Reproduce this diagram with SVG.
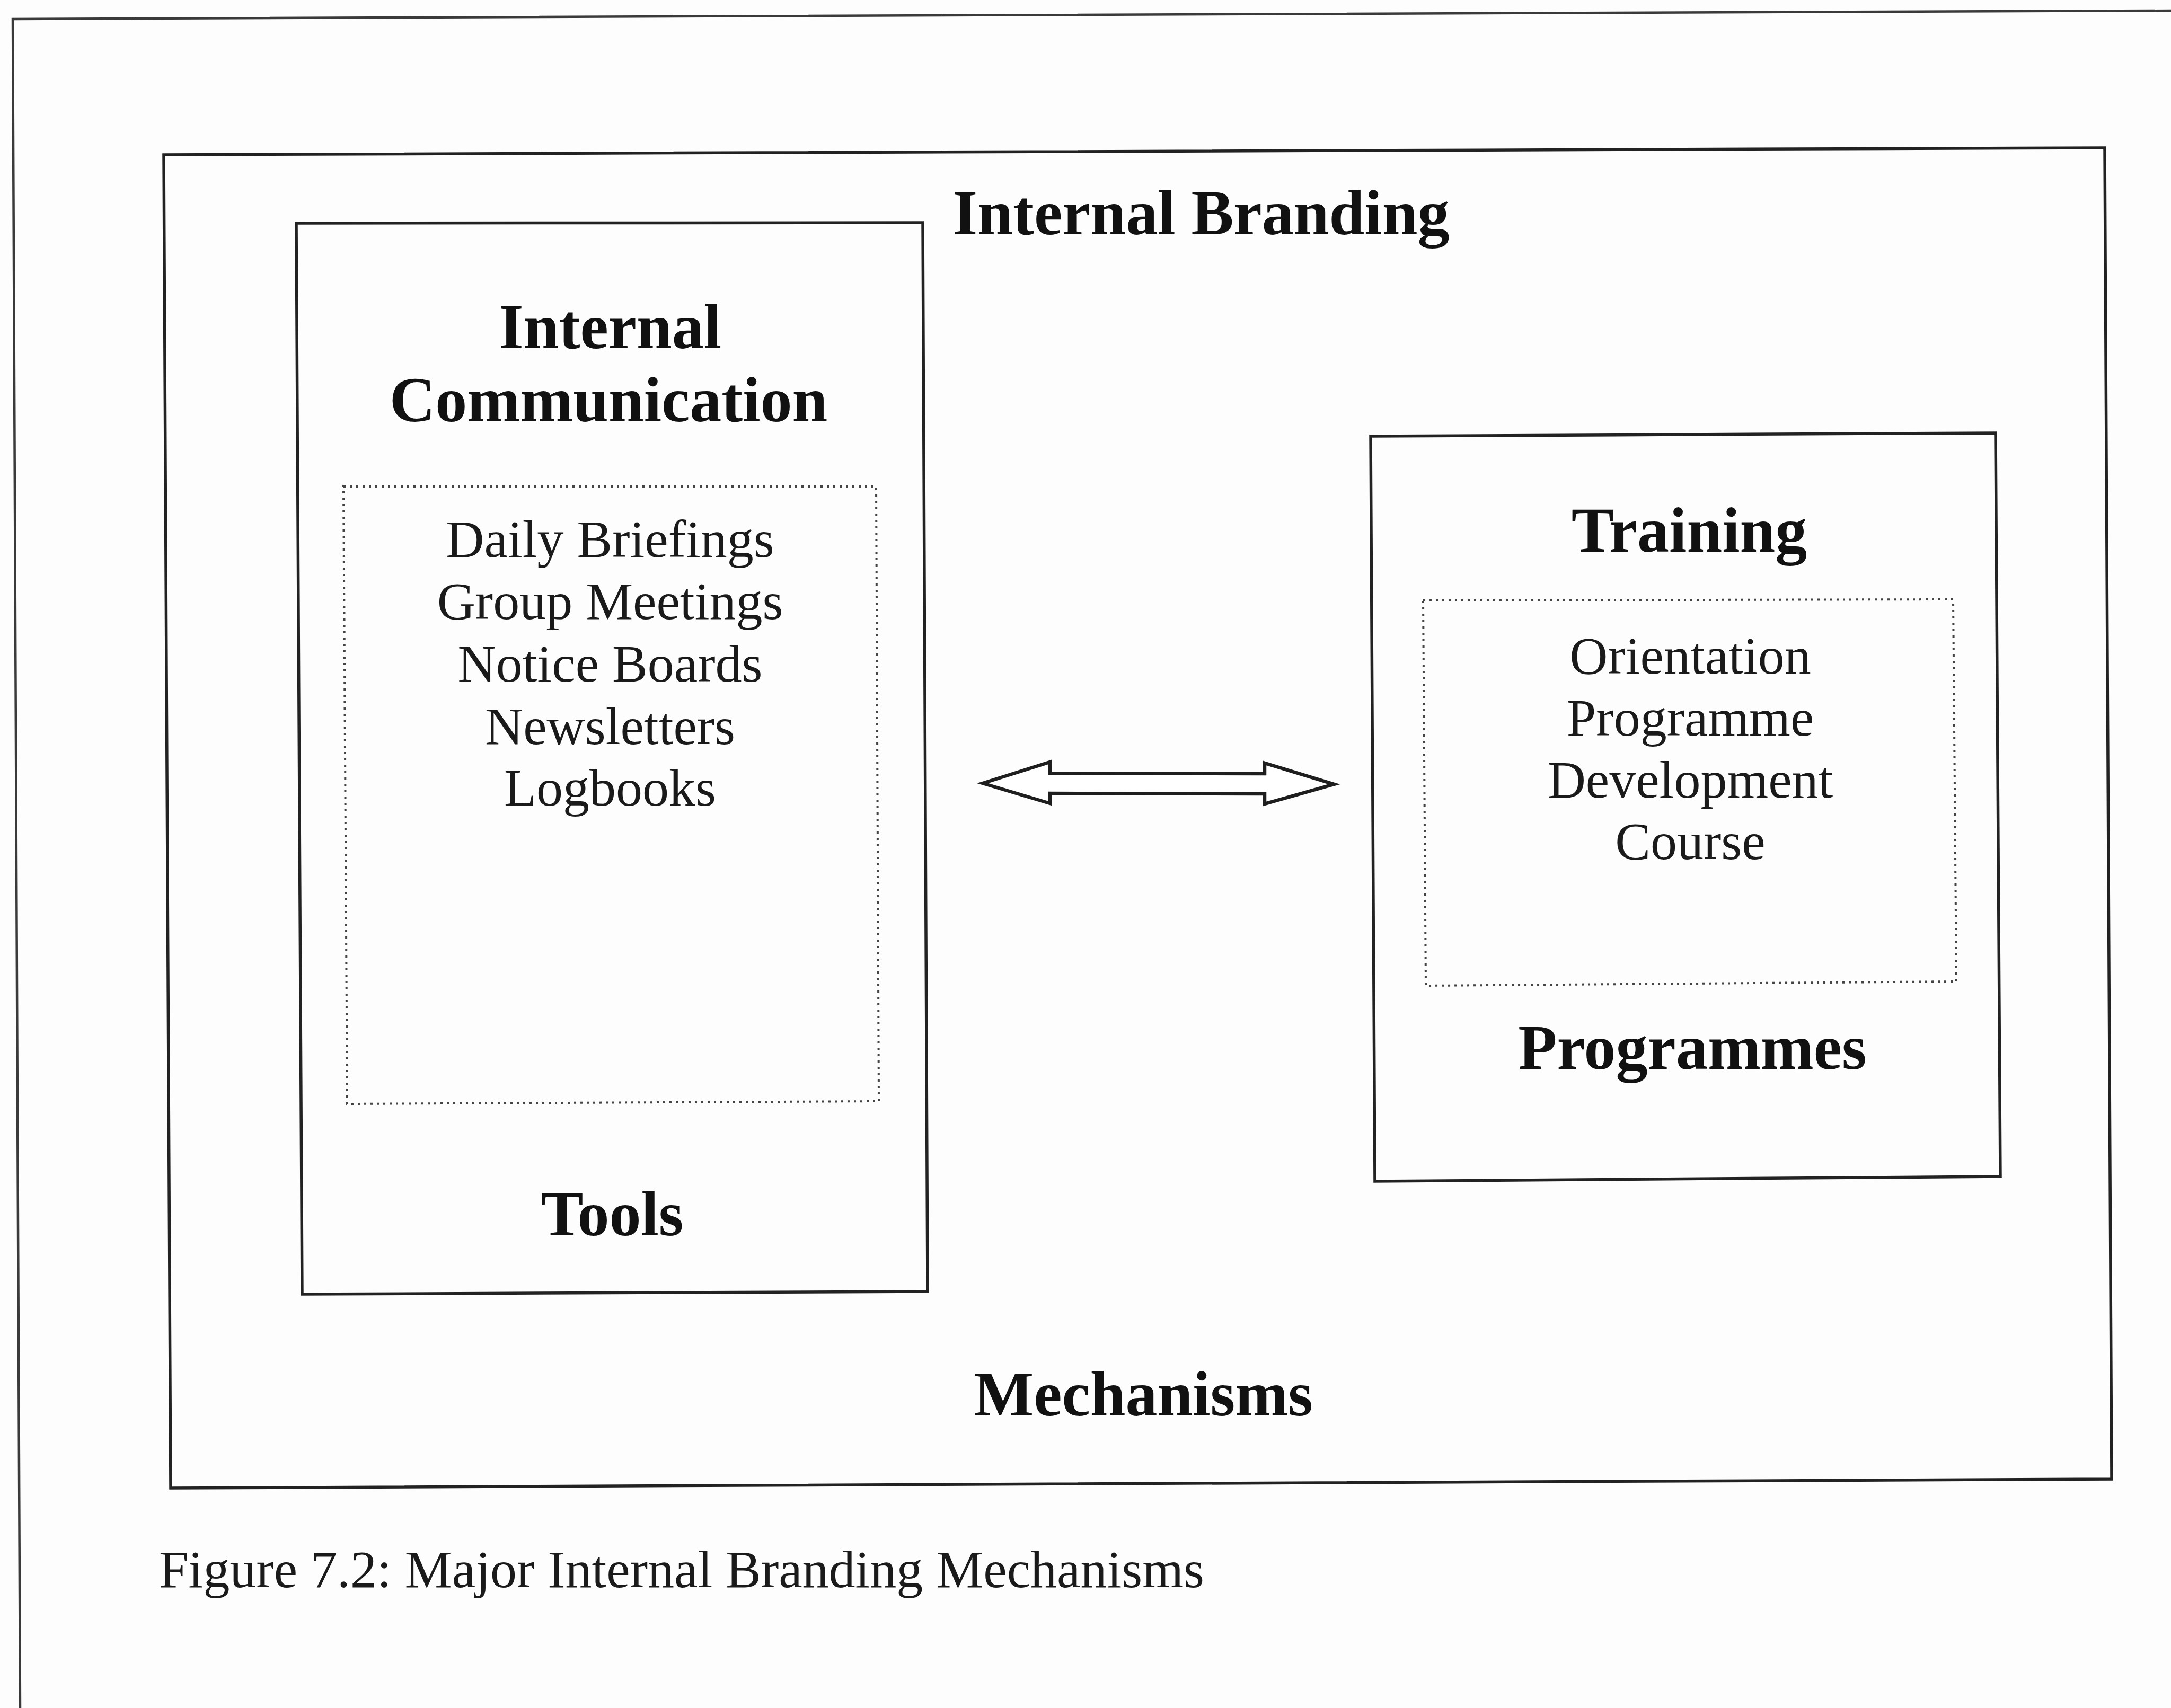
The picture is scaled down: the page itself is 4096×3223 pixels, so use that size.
<svg xmlns="http://www.w3.org/2000/svg" width="4096" height="3223" viewBox="0 0 4096 3223">
  <style>
    .frame { fill: none; stroke: #3a3a3a; stroke-width: 4.5; }
    .box { fill: none; stroke: #222; stroke-width: 5.5; stroke-linejoin: miter; }
    .dotted { fill: none; stroke: #444; stroke-width: 4; stroke-dasharray: 4 8; }
    .title { font-family: "Liberation Serif", "Times New Roman", serif; font-weight: bold; font-size: 120px; fill: #111; text-anchor: middle; }
    .item { font-family: "Liberation Serif", "Times New Roman", serif; font-size: 100px; fill: #1a1a1a; text-anchor: middle; }
    .caption { font-family: "Liberation Serif", "Times New Roman", serif; font-size: 100px; fill: #1a1a1a; }
    .arrow { fill: #fff; stroke: #1e1e1e; stroke-width: 6.5; stroke-linejoin: miter; }
  </style>

  <rect x="0" y="0" width="4096" height="3223" fill="#fdfdfd"/>

  <!-- page frame -->
  <polyline class="frame" points="38,3223 24,36 4096,20"/>

  <!-- outer container: Internal Branding Mechanisms -->
  <g id="internal-branding">
    <polygon class="box" points="309,292 3971,279 3984,2791 322,2808"/>
    <text class="title" x="2266" y="442">Internal Branding</text>
    <text class="title" x="2157" y="2671">Mechanisms</text>
  </g>

  <!-- left node: Internal Communication Tools -->
  <g id="internal-communication">
    <polygon class="box" points="559,421 1741,420 1750,2437 570,2442"/>
    <text class="title" x="1151" y="657">Internal</text>
    <text class="title" x="1148" y="795">Communication</text>
    <polygon class="dotted" points="648,918 1653,918 1658,2078 655,2083"/>
    <text class="item" x="1151" y="1051">Daily Briefings</text>
    <text class="item" x="1151" y="1168">Group Meetings</text>
    <text class="item" x="1151" y="1286">Notice Boards</text>
    <text class="item" x="1151" y="1404">Newsletters</text>
    <text class="item" x="1151" y="1520">Logbooks</text>
    <text class="title" x="1155" y="2331">Tools</text>
  </g>

  <!-- right node: Training Programmes -->
  <g id="training-programmes">
    <polygon class="box" points="2586,823 3765,817 3774,2220 2594,2229"/>
    <text class="title" x="3187" y="1041">Training</text>
    <polygon class="dotted" points="2685,1133 3685,1131 3691,1852 2690,1860"/>
    <text class="item" x="3189" y="1271">Orientation</text>
    <text class="item" x="3189" y="1388">Programme</text>
    <text class="item" x="3189" y="1505">Development</text>
    <text class="item" x="3189" y="1621">Course</text>
    <text class="title" x="3193" y="2017">Programmes</text>
  </g>

  <!-- connectors -->
  <g id="connectors">
    <polygon class="arrow" points="1854,1478 1981,1438 1981,1459 2386,1460 2386,1440 2517,1480 2386,1517 2386,1498 1981,1497 1981,1516"/>
  </g>

  <!-- caption -->
  <text class="caption" x="300" y="2995">Figure 7.2: Major Internal Branding Mechanisms</text>
</svg>
